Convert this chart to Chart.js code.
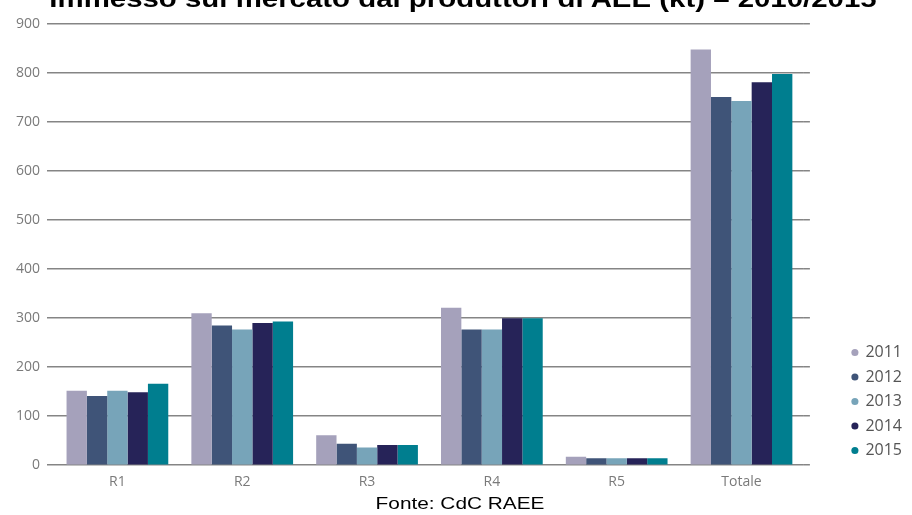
<!DOCTYPE html>
<html lang="it">
<head>
    <meta charset="UTF-8">
    <title>Immesso sul mercato dai produttori di AEE</title>
    <script src="https://cdn.jsdelivr.net/npm/chart.js"></script>
    <style>
        body {
            margin: 0;
            background-color: #ffffff;
            overflow: hidden;
        }
        .wrap {
            position: relative;
            width: 912px;
            height: 515px;
            overflow: hidden;
        }
        .titolo {
            position: absolute;
            left: 463px;
            top: -13px;
            transform: translateX(-50%) scaleX(1.225);
            white-space: nowrap;
            font: bold 24px Arial, "Liberation Sans", sans-serif;
            line-height: 24px;
            color: #000;
        }
        .fonte {
            position: absolute;
            left: 460px;
            top: 494px;
            transform: translateX(-50%) scaleX(1.3);
            white-space: nowrap;
            font: 16px Arial, "Liberation Sans", sans-serif;
            line-height: 20px;
            color: #000;
        }
        #chart { position: absolute; left: 0; top: 0; }
    </style>
</head>
<body>

<div class="wrap">
    <canvas id="chart" width="912" height="515"></canvas>
    <div class="titolo">Immesso sul mercato dai produttori di AEE (kt) – 2010/2015</div>
    <div class="fonte">Fonte: CdC RAEE</div>
</div>

<script>
    // dati (kt)
    const categorie = ['R1', 'R2', 'R3', 'R4', 'R5', 'Totale'];
    const anni = ['2011', '2012', '2013', '2014', '2015'];
    const val2011 = [152, 310, 61, 321, 17, 848];
    const val2012 = [141, 285, 44, 277, 14, 751];
    const val2013 = [152, 277, 36, 277, 14, 743];
    const val2014 = [149, 290, 41, 300, 14, 781];
    const val2015 = [166, 293, 41, 300, 14, 798];
    const yTicks = [0, 100, 200, 300, 400, 500, 600, 700, 800, 900];

    const colori = ['#a5a1bb', '#3f5478', '#77a4b9', '#262358', '#007e8f'];
    const serie = [val2011, val2012, val2013, val2014, val2015];

    const ctx = document.getElementById('chart').getContext('2d');
    const grigioGriglia = '#858585';

    new Chart(ctx, {
        type: 'bar',
        data: {
            labels: categorie,
            datasets: anni.map((anno, i) => ({
                label: anno,
                data: serie[i],
                backgroundColor: colori[i],
                borderWidth: 0,
                categoryPercentage: 0.815,
                barPercentage: 1
            }))
        },
        options: {
            responsive: false,
            animation: false,
            layout: { padding: { top: 24, bottom: 25, left: 0, right: 0 } },
            plugins: {
                tooltip: { enabled: false },
                legend: {
                    position: 'right',
                    align: 'start',
                    title: {
                        display: true,
                        text: '',
                        font: { size: 10 },
                        padding: { top: 300, bottom: 0 }
                    },
                    labels: {
                        usePointStyle: true,
                        pointStyle: 'circle',
                        boxWidth: 5,
                        boxHeight: 5,
                        padding: 8.5,
                        color: '#555555',
                        font: { family: '"Open Sans", sans-serif', size: 16 }
                    }
                }
            },
            scales: {
                x: {
                    grid: { display: false },
                    border: { display: false },
                    ticks: {
                        color: '#7a7a7a',
                        padding: 0,
                        font: { family: '"Open Sans", sans-serif', size: 14 }
                    }
                },
                y: {
                    min: 0,
                    max: 900,
                    afterFit: scale => { scale.width = 55; },
                    afterBuildTicks: scale => { scale.ticks = yTicks.map(v => ({ value: v })); },
                    border: { display: false },
                    grid: {
                        color: grigioGriglia,
                        lineWidth: 1.5,
                        tickLength: 8
                    },
                    ticks: {
                        color: '#7a7a7a',
                        padding: 7,
                        font: { family: '"Open Sans", sans-serif', size: 14 }
                    }
                },
                // asse destro vuoto: solo per allungare la griglia e lasciare spazio alla legenda
                yR: {
                    position: 'right',
                    min: 0,
                    max: 900,
                    afterFit: scale => { scale.width = 40; },
                    afterBuildTicks: scale => { scale.ticks = yTicks.map(v => ({ value: v })); },
                    border: { display: false },
                    grid: {
                        color: grigioGriglia,
                        lineWidth: 1.5,
                        drawOnChartArea: false,
                        tickLength: 6
                    },
                    ticks: { display: false }
                }
            }
        }
    });
</script>

</body>
</html>
